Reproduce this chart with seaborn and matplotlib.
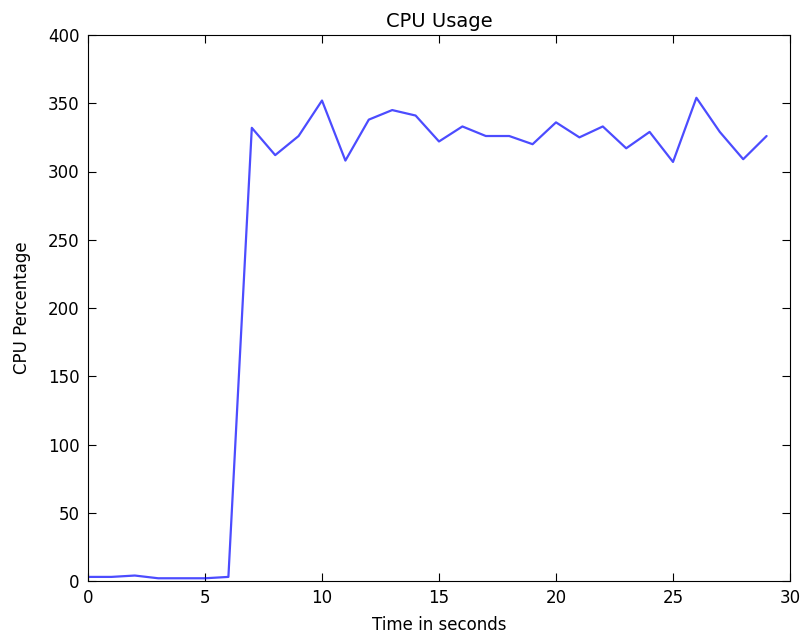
import pandas as pd
import matplotlib
matplotlib.use('Agg')
import matplotlib.pyplot as plt
import seaborn as sns

# Datos
segundos = list(range(30))
cpu = [3, 3, 4, 2, 2, 2, 3, 332, 312, 326, 352, 308, 338, 345, 341, 322,
       333, 326, 326, 320, 336, 325, 333, 317, 329, 307, 354, 329, 309, 326]

datos = pd.DataFrame({'Tiempo': segundos, 'CPU': cpu})

sns.set_style('ticks', {'xtick.direction': 'in', 'ytick.direction': 'in',
                        'axes.edgecolor': 'black', 'text.color': 'black',
                        'axes.labelcolor': 'black', 'xtick.color': 'black',
                        'ytick.color': 'black'})
plt.rcParams['font.family'] = ['DejaVu Sans']
plt.rcParams['font.size'] = 12

fig = plt.figure(figsize=(8.04, 6.37), dpi=100)
ax = fig.add_axes([88 / 804, 1 - 581 / 637, (790 - 88) / 804, (581 - 35) / 637])
sns.lineplot(data=datos, x='Tiempo', y='CPU', color='#0000ff', alpha=0.7,
             linewidth=1.6, ax=ax)
ax.set_xlim(0, 30)
ax.set_ylim(0, 400)
ax.set_xticks(range(0, 31, 5))
ax.set_yticks(range(0, 401, 50))
ax.tick_params(top=True, right=True, direction='in', length=6, labelsize=12,
               pad=6)
ax.set_title('CPU Usage', fontsize=14)
ax.set_xlabel('Time in seconds', fontsize=12, labelpad=6)
ax.set_ylabel('CPU Percentage', fontsize=12, labelpad=12)
fig.savefig('out.png', dpi=100)
